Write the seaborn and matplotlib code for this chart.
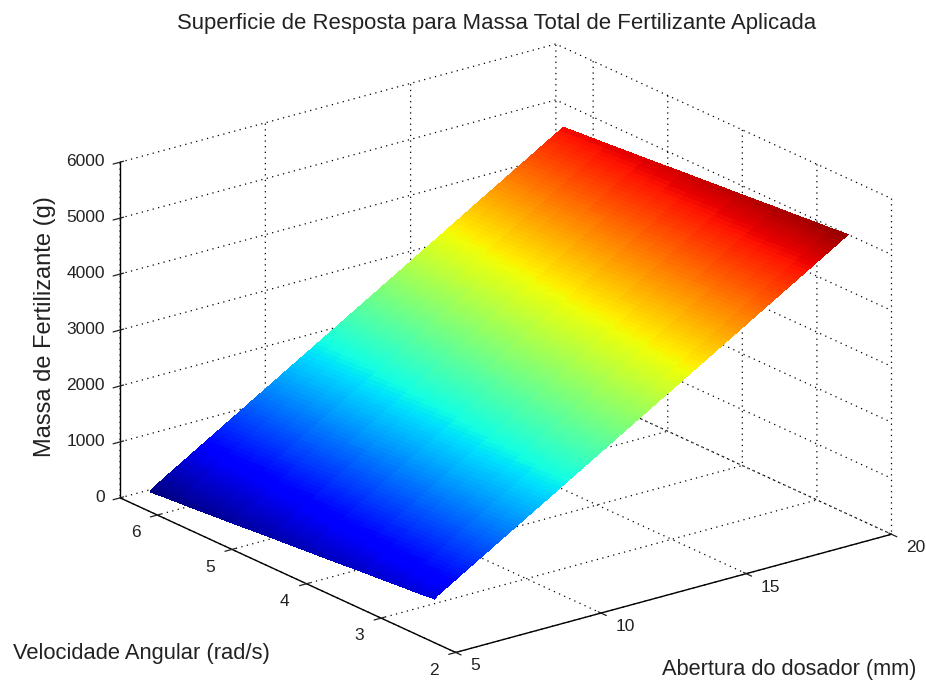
"""
Superficie de resposta - massa total de fertilizante
"""
import numpy as np
import pandas as pd
import matplotlib
matplotlib.use('Agg')
import matplotlib.pyplot as plt
import seaborn as sns

# valores
abertura = [5.93,
            6.0, 6.125, 6.25, 6.375, 6.5, 6.625, 6.75, 6.875,
            7.0, 7.125, 7.25, 7.375, 7.5, 7.625, 7.75, 7.875,
            8.0, 8.125, 8.25, 8.375, 8.5, 8.625, 8.75, 8.875,
            9.0, 9.125, 9.25, 9.375, 9.5, 9.625, 9.75, 9.875,
            10.0, 10.125, 10.25, 10.375, 10.5, 10.625, 10.75, 10.875,
            11.0, 11.125, 11.25, 11.375, 11.5, 11.625, 11.75, 11.875,
            12.0, 12.125, 12.25, 12.375, 12.5, 12.625, 12.75, 12.875,
            13.0, 13.125, 13.25, 13.375, 13.5, 13.625, 13.75, 13.875,
            14.0, 14.125, 14.25, 14.375, 14.5, 14.625, 14.75, 14.875,
            15.0, 15.125, 15.25, 15.375, 15.5, 15.625, 15.75, 15.875,
            16.0, 16.125, 16.25, 16.375, 16.5, 16.625, 16.75, 16.875,
            17.0, 17.125, 17.25, 17.375, 17.5, 17.625, 17.75, 17.875,
            18.0, 18.125, 18.25, 18.375, 18.5, 18.625, 18.75, 18.875,
            19.0, 19.125, 19.25, 19.375, 19.5, 19.625, 19.75, 19.875,
            20.0, 20.15]
massa_abertura = [0,
                  47, 87, 126, 165, 205, 244, 284, 323,
                  363, 402, 442, 481, 520, 560, 599, 639,
                  678, 718, 757, 797, 836, 875, 915, 954,
                  994, 1033, 1073, 1112, 1152, 1191, 1230, 1270,
                  1309, 1349, 1388, 1428, 1467, 1507, 1546, 1585,
                  1625, 1664, 1704, 1743, 1783, 1822, 1862, 1901,
                  1940, 1980, 2019, 2059, 2098, 2138, 2177, 2217,
                  2256, 2295, 2335, 2374, 2414, 2453, 2493, 2532,
                  2572, 2611, 2650, 2690, 2729, 2769, 2808, 2848,
                  2887, 2927, 2966, 3005, 3045, 3084, 3124, 3163,
                  3203, 3242, 3282, 3321, 3360, 3400, 3439, 3479,
                  3518, 3558, 3597, 3637, 3676, 3715, 3755, 3794,
                  3834, 3873, 3913, 3952, 3992, 4031, 4070, 4110,
                  4149, 4189, 4228, 4268, 4307, 4347, 4386, 4425,
                  4465, 4515]
velocidade = [2.64, 2.85, 3.1, 3.35, 3.6, 3.85, 4.1, 4.35, 4.6, 4.85, 5.1, 5.35, 5.6, 5.85, 6.1, 6.3, 6.46]
massa_velocidade = [430, 400, 375, 345, 320, 290, 260, 235, 205, 180, 150, 120, 95, 65, 40, 20, 0]

x_ticks = [5, 10, 15, 20]
y_ticks = [2, 3, 4, 5, 6]
z_ticks = [0, 1000, 2000, 3000, 4000, 5000, 6000]

sns.set_theme(style='white')
plt.rcParams['font.family'] = ['Liberation Sans', 'DejaVu Sans']
plt.rcParams['grid.color'] = 'black'
plt.rcParams['grid.linestyle'] = (0, (1, 3.5))
plt.rcParams['grid.linewidth'] = 0.9
plt.rcParams['axes.unicode_minus'] = False

tabela = pd.DataFrame(np.add.outer(massa_velocidade, massa_abertura), index=velocidade, columns=abertura)
X, Y = np.meshgrid(tabela.columns.values, tabela.index.values)

fig = plt.figure(figsize=(9.26, 6.87), dpi=100)
ax = fig.add_axes([33.5 / 926, -14 / 687, 1, 1], projection='3d', proj_type='ortho')
ax.view_init(elev=20.7, azim=-127.5)
ax.set_box_aspect((548, 550, 358), zoom=1.211)

superficie = ax.plot_surface(X, Y, tabela.values, cmap='jet', vmin=0, vmax=5030, rstride=1, cstride=1,
                             linewidth=0, antialiased=False, shade=False)
superficie.set_clip_on(False)  # o eixo 3d e quadrado e cortaria os cantos

ax.set_xlim(5, 20, view_margin=0)
ax.set_ylim(2, 6.5, view_margin=0)
ax.set_zlim(0, 6000, view_margin=0)
ax.set_xticks(x_ticks)
ax.set_yticks(y_ticks)
ax.set_zticks(z_ticks)
ax.tick_params(labelsize=12.5, colors='#222222', pad=2)
ax.tick_params(axis='x', pad=3)
ax.tick_params(axis='z', pad=-3)

for eixo in (ax.xaxis, ax.yaxis, ax.zaxis):
    eixo.set_pane_color((1, 1, 1, 0))
    eixo.pane.set_edgecolor('none')
    eixo.line.set_color('black')
    eixo.line.set_linewidth(1.0)
    eixo._axinfo['tick']['linewidth'] = {True: 0.9, False: 0.9}
    eixo._axinfo['tick']['color'] = 'black'

for t in ax.xaxis.get_major_ticks():
    t.label1.set_ha('left')
    t.label1.set_va('bottom')
for t in ax.yaxis.get_major_ticks():
    t.label1.set_ha('right')
    t.label1.set_va('center')
for t in ax.zaxis.get_major_ticks():
    t.label1.set_ha('right')
    t.label1.set_va('center')

fig.text(497 / 926, 1 - 24 / 687, 'Superficie de Resposta para Massa Total de Fertilizante Aplicada',
         ha='center', va='center', fontsize=15.95, color='#222222')
fig.text(45 / 926, 1 - 327 / 687, 'Massa de Fertilizante (g)', rotation=90,
         ha='center', va='center', fontsize=17, color='#222222')
fig.text(13 / 926, 1 - 653 / 687, 'Velocidade Angular (rad/s)', ha='left', va='center', fontsize=15.8, color='#222222')
fig.text(916 / 926, 1 - 670 / 687, 'Abertura do dosador (mm)', ha='right', va='center', fontsize=15.7, color='#222222')

fig.savefig('out.png', dpi=100)
